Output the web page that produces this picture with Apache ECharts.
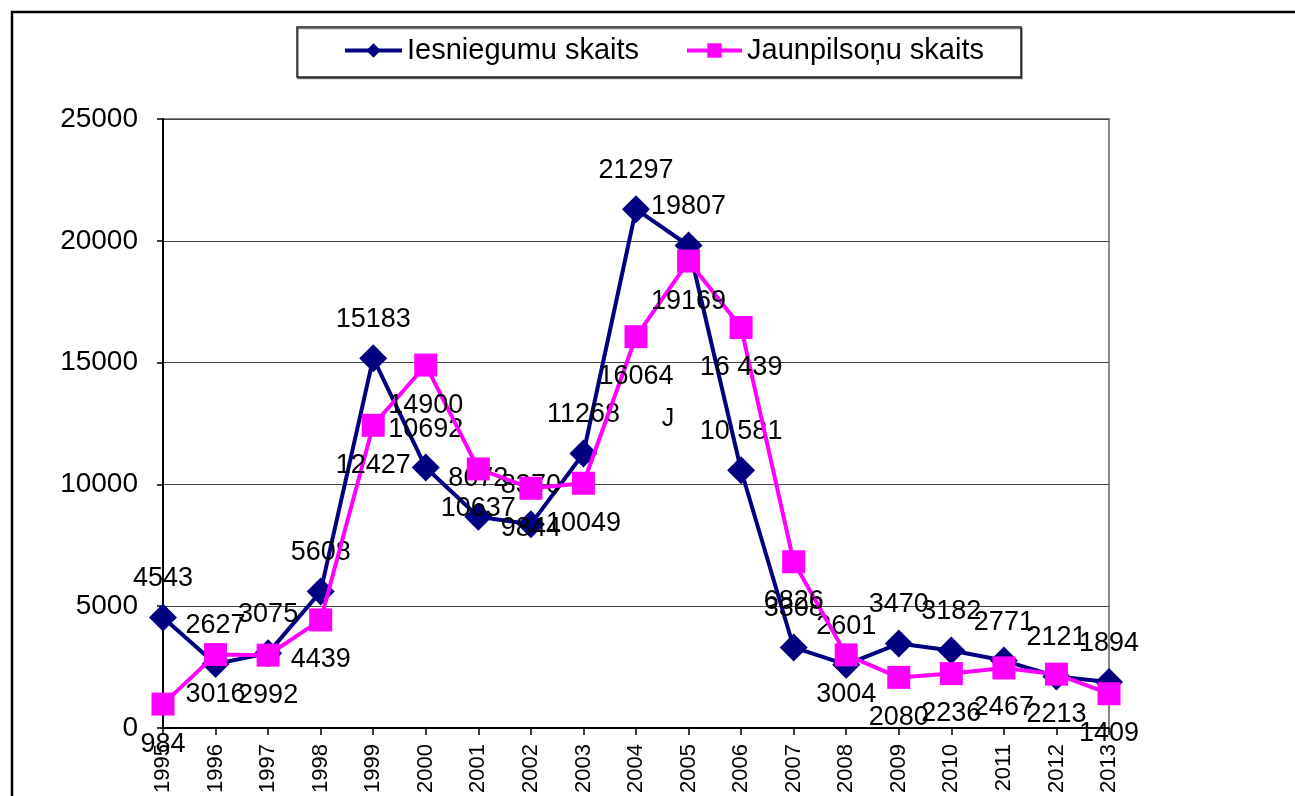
<!DOCTYPE html>
<html>
<head>
<meta charset="utf-8">
<script src="https://cdn.jsdelivr.net/npm/echarts@6/dist/echarts.min.js"></script>
<style>
html,body{margin:0;padding:0;background:#fff;}
#chart{width:1295px;height:796px;}
</style>
</head>
<body>
<div id="chart"></div>
<script>
const years = ['1995','1996','1997','1998','1999','2000','2001','2002','2003','2004','2005','2006','2007','2008','2009','2010','2011','2012','2013'];
const iesniegumi = [4543,2627,3075,5608,15183,10692,8672,8370,11268,21297,19807,10581,3308,2601,3470,3182,2771,2121,1894];
const jaunpilsoni = [984,3016,2992,4439,12427,14900,10637,9844,10049,16064,19169,16439,6826,3004,2080,2236,2467,2213,1409];
const seriesNames = ['Iesniegumu skaits','Jaunpilsoņu skaits'];
const yTicks = [0,5000,10000,15000,20000,25000];
const spacedLabelYears = ['2006'];
const strayText = 'J';

const FONT = '"Liberation Sans", Arial, sans-serif';

function fmt(p){
  const v = p.value;
  if (spacedLabelYears.indexOf(years[p.dataIndex]) >= 0) {
    const s = String(v);
    return s.slice(0, s.length-3) + ' ' + s.slice(s.length-3);
  }
  return String(v);
}

const chart = echarts.init(document.getElementById('chart'), null, {renderer:'canvas'});
chart.setOption({
  animation:false,
  backgroundColor:'#fff',
  textStyle:{fontFamily:FONT},
  graphic:[
    {type:'rect', shape:{x:12,y:12,width:1400,height:900}, style:{fill:'none',stroke:'#000',lineWidth:2.5}, z:-1},
    {type:'rect', shape:{x:297,y:27,width:724,height:50}, style:{fill:'#fff',stroke:'#222',lineWidth:1.5,shadowColor:'rgba(0,0,0,0.5)',shadowOffsetX:1,shadowOffsetY:1.5,shadowBlur:0}, z:0},
    {type:'text', x:668, y:419, style:{text:strayText, fontSize:25, fontFamily:FONT, fill:'#000', align:'center', verticalAlign:'middle'}, z:10}
  ],
  legend:[
    {data:[seriesNames[0]], left:343, top:36, padding:0, itemWidth:57, itemHeight:18, itemGap:0,
     lineStyle:{width:4}, textStyle:{fontSize:29, color:'#000', fontFamily:FONT}, z:5},
    {data:[seriesNames[1]], left:685, top:36, padding:0, itemWidth:55, itemHeight:18, itemGap:0,
     lineStyle:{width:4}, textStyle:{fontSize:29, color:'#000', fontFamily:FONT}, z:5}
  ],
  grid:{left:163, right:186, top:119, bottom:66, show:true, borderColor:'#888', borderWidth:2, backgroundColor:'transparent'},
  xAxis:{
    type:'category', data:years, boundaryGap:false,
    axisLine:{lineStyle:{color:'#000', width:2}},
    axisTick:{show:true, inside:false, length:7, lineStyle:{color:'#000', width:1.5}},
    axisLabel:{rotate:90, fontSize:22, color:'#000', margin:16, fontFamily:FONT, interval:0},
    splitLine:{show:false}
  },
  yAxis:{
    type:'value', min:0, max:25000, interval:5000,
    axisLine:{show:true, lineStyle:{color:'#000', width:2}},
    axisTick:{show:true, inside:false, length:6, lineStyle:{color:'#000', width:1.5}},
    axisLabel:{fontSize:28, color:'#000', margin:25, fontFamily:FONT,
      formatter:function(v){ return yTicks.indexOf(v)>=0 ? String(v) : ''; }},
    splitLine:{show:true, lineStyle:{color:'#444', width:1}}
  },
  series:[
    {name:seriesNames[0], type:'line', data:iesniegumi, symbol:'diamond', symbolSize:28,
     lineStyle:{color:'#000080', width:4}, itemStyle:{color:'#000080'},
     label:{show:true, position:'top', distance:11, fontSize:27, color:'#000', fontFamily:FONT, formatter:fmt},
     z:2},
    {name:seriesNames[1], type:'line', data:jaunpilsoni, symbol:'rect', symbolSize:23,
     lineStyle:{color:'#FF00FF', width:4}, itemStyle:{color:'#FF00FF'},
     label:{show:true, position:'bottom', distance:15, fontSize:27, color:'#000', fontFamily:FONT, formatter:fmt},
     z:3}
  ]
});
</script>
</body>
</html>
